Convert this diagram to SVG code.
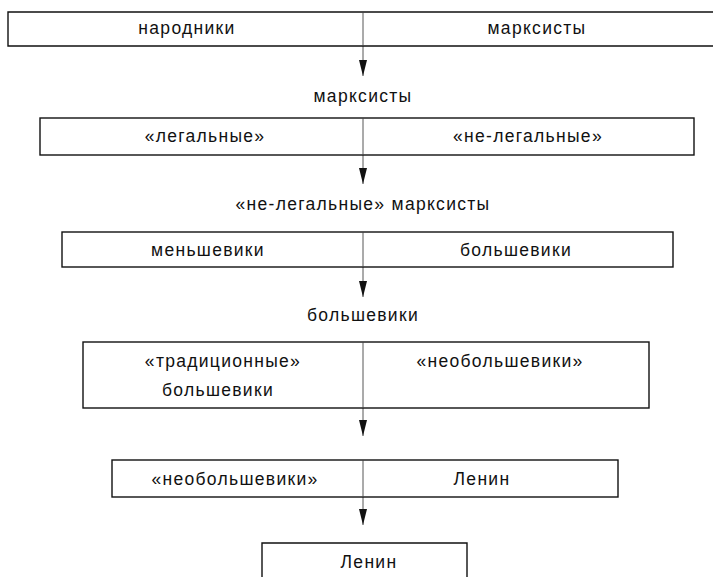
<svg xmlns="http://www.w3.org/2000/svg" width="713" height="577" viewBox="0 0 713 577">
<style>
.box{fill:#fff;stroke:#111;stroke-width:1.4}
.div{stroke:#444;stroke-width:0.9}
.t{font-family:"Liberation Sans","DejaVu Sans",sans-serif;font-size:17.5px;letter-spacing:1.3px;fill:#111;text-anchor:middle;dominant-baseline:central}
.conn{stroke:#444;stroke-width:0.9;fill:none}
</style>
<defs>
<marker id="ah" markerUnits="userSpaceOnUse" markerWidth="17" markerHeight="8" refX="15" refY="3.75" orient="auto" viewBox="0 0 15 7.5">
<path d="M0,0 L15,3.75 L0,7.5 Z" fill="#111"/>
</marker>
</defs>
<rect width="713" height="577" fill="#fff"/>
<g id="connectors">
<line class="conn" x1="363" y1="46" x2="363" y2="76" marker-end="url(#ah)"/>
<line class="conn" x1="363" y1="155" x2="363" y2="184" marker-end="url(#ah)"/>
<line class="conn" x1="363" y1="267" x2="363" y2="297" marker-end="url(#ah)"/>
<line class="conn" x1="363" y1="408" x2="363" y2="436" marker-end="url(#ah)"/>
<line class="conn" x1="363" y1="497" x2="363" y2="525" marker-end="url(#ah)"/>
</g>
<g id="n1">
<path class="box" d="M715,12 H8 V46 H715"/>
<line class="div" x1="363" y1="12" x2="363" y2="46"/>
<text class="t" x="187" y="28">народники</text>
<text class="t" x="537" y="28">марксисты</text>
</g>
<g id="l1"><text class="t" x="363" y="96">марксисты</text></g>
<g id="n2">
<rect class="box" x="40" y="118" width="654" height="37"/>
<line class="div" x1="363" y1="118" x2="363" y2="155"/>
<text class="t" x="205" y="136">«легальные»</text>
<text class="t" x="528" y="136">«не-легальные»</text>
</g>
<g id="l2"><text class="t" x="363" y="204">«не-легальные» марксисты</text></g>
<g id="n3">
<rect class="box" x="62" y="232" width="611" height="35"/>
<line class="div" x1="363" y1="232" x2="363" y2="267"/>
<text class="t" x="208" y="250">меньшевики</text>
<text class="t" x="516" y="250">большевики</text>
</g>
<g id="l3"><text class="t" x="363" y="315">большевики</text></g>
<g id="n4">
<rect class="box" x="83" y="342" width="566" height="66"/>
<line class="div" x1="363" y1="342" x2="363" y2="408"/>
<text class="t" x="223" y="361">«традиционные»</text>
<text class="t" x="218" y="390">большевики</text>
<text class="t" x="500" y="361">«необольшевики»</text>
</g>
<g id="n5">
<rect class="box" x="112" y="460" width="506" height="37"/>
<line class="div" x1="363" y1="460" x2="363" y2="497"/>
<text class="t" x="235" y="479">«необольшевики»</text>
<text class="t" x="482" y="479">Ленин</text>
</g>
<g id="n6">
<path class="box" d="M262,580 V543 H467 V580"/>
<text class="t" x="369" y="562">Ленин</text>
</g>
</svg>
